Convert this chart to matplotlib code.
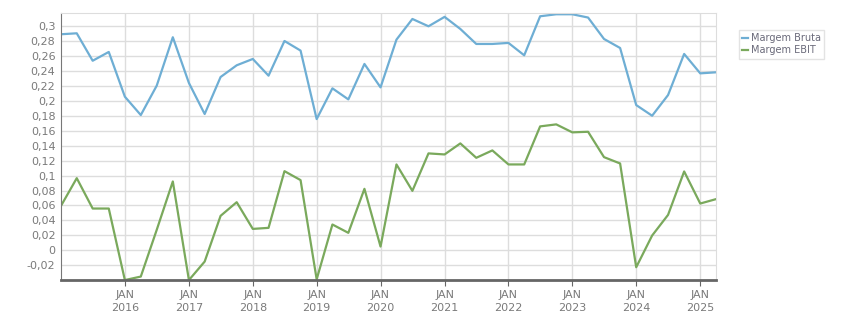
import numpy as np
import pandas as pd
import matplotlib
matplotlib.use("Agg")
import matplotlib.pyplot as plt

# quarterly margins, 2015Q1 .. 2025Q2
quarters = pd.date_range("2015-01-01", periods=42, freq="QS")
margem_bruta = [
    0.2895, 0.2908, 0.254, 0.2658, 0.2058, 0.1812, 0.2206, 0.2855, 0.2242, 0.1826,
    0.2322, 0.2479, 0.2564, 0.234, 0.2805, 0.2676, 0.1758, 0.217, 0.2022, 0.2497,
    0.2183, 0.2823, 0.31, 0.3002, 0.3128, 0.2966, 0.2765, 0.2765, 0.2779, 0.2613,
    0.3136, 0.3163, 0.3163, 0.3119, 0.2832, 0.2711, 0.1946, 0.1803, 0.208, 0.2631,
    0.2371, 0.2385,
]
margem_ebit = [
    0.0595, 0.0966, 0.0559, 0.0559, -0.04, -0.0353, 0.0273, 0.0922, -0.04, -0.0152,
    0.0461, 0.0644, 0.0286, 0.03, 0.106, 0.094, -0.039, 0.0345, 0.0233, 0.0823,
    0.0049, 0.115, 0.0796, 0.1298, 0.1284, 0.1432, 0.1239, 0.1338, 0.115, 0.115,
    0.166, 0.1687, 0.158, 0.1588, 0.1248, 0.1163, -0.0228, 0.0197, 0.0474, 0.1056,
    0.0626, 0.0685,
]
y_ticks = np.round(np.arange(-0.02, 0.301, 0.02), 2)
x_years = list(range(2016, 2026))

fig = plt.figure(figsize=(8.51, 3.13), dpi=100)
ax = fig.add_axes([61 / 851, 1 - 280 / 313, (716 - 61) / 851, (280 - 13) / 313])

ax.plot(quarters, margem_bruta, color="#6eaed4", lw=1.6, label="Margem Bruta")
ax.plot(quarters, margem_ebit, color="#7aa95c", lw=1.6, label="Margem EBIT")

ax.set_xlim(quarters[0], quarters[-1])
ax.set_ylim(-0.0399, 0.318)

ax.set_yticks(y_ticks)
ax.set_yticklabels([f"{v:g}".replace(".", ",") for v in y_ticks])
ax.set_xticks([pd.Timestamp(f"{y}-01-01") for y in x_years])
ax.set_xticklabels([f"JAN\n{y}" for y in x_years], linespacing=1.35)

ax.grid(True, color="#dddddd", lw=1)
ax.set_axisbelow(True)
for s in ["top", "right"]:
    ax.spines[s].set_color("#dddddd")
ax.spines["left"].set_color("#777777")
ax.spines["bottom"].set_color("#666666")
ax.spines["bottom"].set_linewidth(2)
ax.tick_params(axis="y", length=0, pad=4, labelsize=8, labelcolor="#7a7a7a")
ax.tick_params(axis="x", length=4, color="#666666", pad=3, labelsize=8, labelcolor="#7a7a7a")

leg = ax.legend(loc="upper left", bbox_to_anchor=(1.035, 0.936), borderaxespad=0,
                fontsize=7, handlelength=0.6, handletextpad=0.3, borderpad=0.35,
                labelspacing=0.2, fancybox=False, frameon=True)
leg.get_frame().set_edgecolor("#dddddd")
leg.get_frame().set_linewidth(1)
for t in leg.get_texts():
    t.set_color("#6a6a7a")

fig.savefig("out.png", dpi=100)
